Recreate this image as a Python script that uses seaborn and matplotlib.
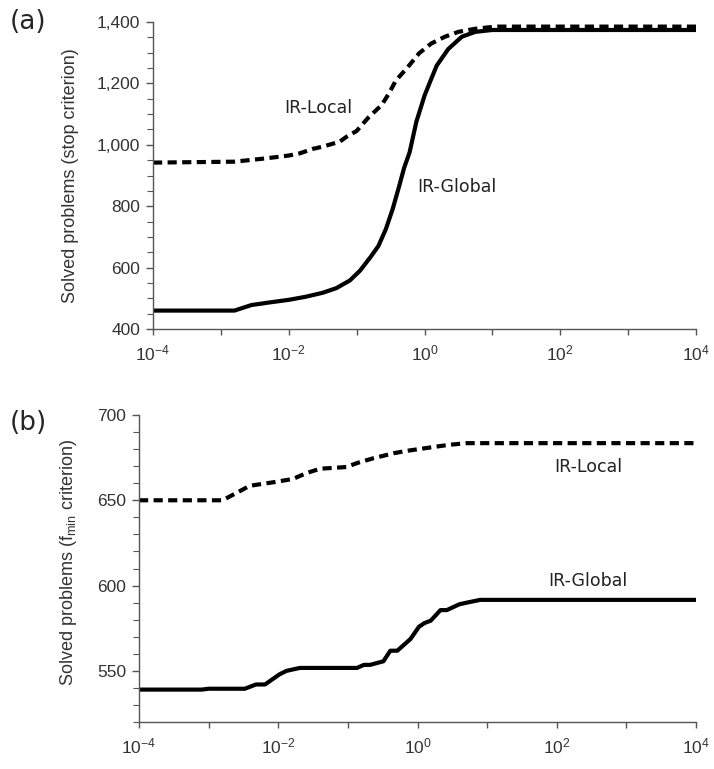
import numpy as np
import pandas as pd
import matplotlib
matplotlib.use("Agg")
import matplotlib.pyplot as plt
from matplotlib.ticker import FixedLocator, FuncFormatter, MultipleLocator, NullLocator
import seaborn as sns

# panel (a): stop criterion, x given as log10 of the ratio
a_global_logx = [-4.0, -2.8, -2.55, -2.3, -2.0, -1.75, -1.5, -1.3, -1.1, -0.95, -0.8, -0.68,
                 -0.57, -0.47, -0.38, -0.3, -0.22, -0.12, 0.0, 0.1, 0.18, 0.35, 0.55, 0.75, 1.0, 4.0]
a_global_y = [460, 460, 478, 486, 495, 505, 518, 533, 558, 590, 633, 670,
              725, 790, 860, 925, 975, 1075, 1160, 1215, 1258, 1312, 1352, 1368, 1374, 1374]

a_local_logx = [-4.0, -2.8, -2.33, -2.0, -1.84, -1.64, -1.5, -1.25, -1.15, -1.0, -0.83, -0.63,
                -0.53, -0.42, -0.25, -0.08, 0.1, 0.3, 0.5, 0.75, 1.05, 4.0]
a_local_y = [942, 945, 956, 965, 972, 987, 994, 1010, 1026, 1045, 1088, 1130,
             1165, 1210, 1252, 1298, 1330, 1352, 1368, 1378, 1385, 1385]

# panel (b): f_min criterion
b_global_logx = [-4.0, -3.1, -3.0, -2.48, -2.32, -2.19, -2.05, -1.98, -1.88, -1.69, -0.87, -0.77,
                 -0.68, -0.49, -0.39, -0.29, -0.1, 0.02, 0.1, 0.19, 0.33, 0.42, 0.6, 0.71, 0.9, 4.0]
b_global_y = [539, 539, 539.5, 539.5, 542, 542, 546, 548, 550, 551.7, 551.7, 553.5,
              553.5, 555.6, 561.8, 561.8, 568.7, 575.8, 578, 579.4, 585.6, 585.6, 589, 590, 591.6, 591.6]

b_local_logx = [-4.0, -2.8, -2.6, -2.41, -2.08, -1.79, -1.59, -1.4, -1.02, -0.87, -0.63, -0.34,
                -0.15, 0.19, 0.45, 0.71, 4.0]
b_local_y = [650, 650, 654.3, 658.5, 660.5, 662.5, 666, 668.5, 669.5, 671.8, 674.7, 677.6,
             679, 681, 682.5, 683.5, 683.5]

x_tick_exp = [-4, -3, -2, -1, 0, 1, 2, 3, 4]

sns.set_style("ticks")
plt.rcParams["font.family"] = ["Liberation Sans", "DejaVu Sans"]
plt.rcParams["mathtext.fontset"] = "custom"
plt.rcParams["mathtext.rm"] = "Liberation Sans"
plt.rcParams["mathtext.it"] = "Liberation Sans:italic"
plt.rcParams["mathtext.bf"] = "Liberation Sans:bold"

fig = plt.figure(figsize=(7.14, 7.69), dpi=100)
ax_a = fig.add_axes([153 / 714, 1 - 329 / 769, (696 - 153) / 714, (329 - 22) / 769])
ax_b = fig.add_axes([139 / 714, 1 - 722 / 769, (696 - 139) / 714, (722 - 415) / 769])


def draw_panel(ax, glob_x, glob_y, loc_x, loc_y):
    g = pd.DataFrame({"x": 10.0 ** np.array(glob_x), "y": glob_y})
    l = pd.DataFrame({"x": 10.0 ** np.array(loc_x), "y": loc_y})
    sns.lineplot(data=g, x="x", y="y", ax=ax, color="black", linewidth=3, estimator=None)
    sns.lineplot(data=l, x="x", y="y", ax=ax, color="black", linewidth=3, estimator=None,
                 linestyle=(0, (2.2, 1.3)))
    ax.set_xscale("log")
    ax.set_xlim(1e-4, 1e4)
    ax.xaxis.set_major_locator(FixedLocator([10.0 ** e for e in x_tick_exp]))
    ax.xaxis.set_major_formatter(FuncFormatter(
        lambda v, p: r"$\mathregular{10^{%d}}$" % round(np.log10(v)) if round(np.log10(v)) % 2 == 0 else ""))
    ax.xaxis.set_minor_locator(NullLocator())
    ax.set_xlabel("")
    sns.despine(ax=ax)
    for s in ["left", "bottom"]:
        ax.spines[s].set_color("#555555")
        ax.spines[s].set_linewidth(1.0)
    ax.tick_params(axis="both", which="both", direction="out", color="#555555",
                   labelcolor="#333333", labelsize=12.5)
    ax.tick_params(axis="x", which="major", length=4.5, width=1, pad=6)
    ax.tick_params(axis="y", which="major", length=5, width=1, pad=4)
    ax.tick_params(axis="y", which="minor", length=4, width=0.8)


# (a)
draw_panel(ax_a, a_global_logx, a_global_y, a_local_logx, a_local_y)
ax_a.set_ylim(400, 1400)
ax_a.yaxis.set_major_locator(MultipleLocator(200))
ax_a.yaxis.set_minor_locator(MultipleLocator(50))
ax_a.yaxis.set_major_formatter(FuncFormatter(lambda v, p: f"{int(v):,}"))
ax_a.set_ylabel("Solved problems (stop criterion)", fontsize=13, color="#333333")
ax_a.yaxis.set_label_coords(-0.136, 0.5)
ax_a.text(10 ** -1.57, 1120, "IR-Local", ha="center", va="center", fontsize=12.5,
          family="DejaVu Sans", color="#222222")
ax_a.text(10 ** 0.48, 862, "IR-Global", ha="center", va="center", fontsize=12.5,
          family="DejaVu Sans", color="#222222")

# (b)
draw_panel(ax_b, b_global_logx, b_global_y, b_local_logx, b_local_y)
ax_b.set_ylim(520, 700)
ax_b.yaxis.set_major_locator(FixedLocator([550, 600, 650, 700]))
ax_b.yaxis.set_minor_locator(MultipleLocator(10))
ax_b.yaxis.set_major_formatter(FuncFormatter(lambda v, p: f"{int(v)}"))
ax_b.set_ylabel(r"Solved problems (f$_{\mathregular{min}}$ criterion)", fontsize=13, color="#333333")
ax_b.yaxis.set_label_coords(-0.108, 0.52)
ax_b.text(10 ** 2.45, 669.6, "IR-Local", ha="center", va="center", fontsize=12.5,
          family="DejaVu Sans", color="#222222")
ax_b.text(10 ** 2.45, 602.5, "IR-Global", ha="center", va="center", fontsize=12.5,
          family="DejaVu Sans", color="#222222")

fig.text(10 / 714, 1 - 22 / 769, "(a)", fontsize=19, family="DejaVu Sans", ha="left", va="center")
fig.text(10 / 714, 1 - 423 / 769, "(b)", fontsize=19, family="DejaVu Sans", ha="left", va="center")

fig.savefig("out.png", dpi=100)
